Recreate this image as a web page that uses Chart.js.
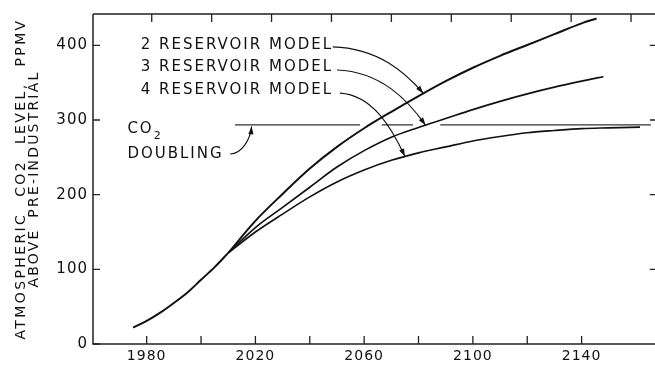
<!DOCTYPE html>
<html>
<head>
<meta charset="utf-8">
<script src="https://cdn.jsdelivr.net/npm/chart.js@4"></script>
<style>
  html, body { margin: 0; padding: 0; background: #fff; }
  canvas { display: block; }
</style>
</head>
<body>
<canvas id="chart" width="655" height="370"></canvas>
<script>
// Common history, 1975–2010 (ppmv above pre-industrial)
const sharedYears = [1975, 1980, 1985, 1990, 1995, 2000, 2005, 2010];
const sharedLevel = [22, 31, 42, 55, 69, 86, 103, 122];

// Projections for each ocean reservoir model
const twoResYears = [2010, 2020, 2030, 2040, 2050, 2060, 2070, 2080, 2090, 2100, 2110, 2120, 2130, 2140, 2145.5];
const twoResLevel = [122, 165, 201, 235, 264, 289, 311, 332, 352, 370, 386, 400.5, 415, 429.5, 436];

const threeResYears = [2010, 2020, 2030, 2040, 2050, 2060, 2070, 2080, 2090, 2100, 2110, 2120, 2130, 2140, 2148];
const threeResLevel = [122, 156, 183, 210, 237, 259, 277, 290, 302, 314, 325, 335, 344, 352, 358];

const fourResYears = [2010, 2020, 2030, 2040, 2050, 2060, 2070, 2080, 2090, 2100, 2110, 2120, 2130, 2140, 2150, 2161.5];
const fourResLevel = [122, 150, 174, 197, 217, 233, 246, 256, 264, 272, 278, 283, 286, 288.5, 289.5, 290.5];

// CO2 doubling reference level and the stretches where it is drawn
const doublingLevel = 293.5;
const doublingSpans = [[2012.5, 2058.5], [2066.5, 2078], [2088, 2165.5]];

// Axis ticks
const xTickValues = [1980, 2000, 2020, 2040, 2060, 2080, 2100, 2120, 2140];
const xLabelYears = [1980, 2020, 2060, 2100, 2140];
const yTickValues = [0, 100, 200, 300, 400];

// Text
const modelLabels = ['2 RESERVOIR MODEL', '3 RESERVOIR MODEL', '4 RESERVOIR MODEL'];
const yTitleLines = ['ATMOSPHERIC CO2 LEVEL, PPMV', 'ABOVE PRE-INDUSTRIAL'];
const doublingLabel = ['CO', '2', 'DOUBLING'];

const pts = (xs, ys) => xs.map((x, i) => ({ x, y: ys[i] }));

function doublingPoints() {
  const out = [];
  doublingSpans.forEach((s, i) => {
    if (i > 0) out.push({ x: (doublingSpans[i - 1][1] + s[0]) / 2, y: null });
    out.push({ x: s[0], y: doublingLevel }, { x: s[1], y: doublingLevel });
  });
  return out;
}

const modelSeries = [
  { years: sharedYears.concat(twoResYears.slice(1)), level: sharedLevel.concat(twoResLevel.slice(1)) },
  { years: sharedYears.concat(threeResYears.slice(1)), level: sharedLevel.concat(threeResLevel.slice(1)) },
  { years: sharedYears.concat(fourResYears.slice(1)), level: sharedLevel.concat(fourResLevel.slice(1)) }
];

function interp(series, year) {
  const xs = series.years, ys = series.level;
  for (let i = 1; i < xs.length; i++) {
    if (year <= xs[i]) {
      const t = (year - xs[i - 1]) / (xs[i] - xs[i - 1]);
      return ys[i - 1] + t * (ys[i] - ys[i - 1]);
    }
  }
  return ys[ys.length - 1];
}

const ink = '#111';
const font = (size) => size + 'px "DejaVu Sans"';

// Labels and leader arrows, placed in data coordinates
const modelNotes = [
  { at: [1977.8, 401], from: [2048.5, 398], tipYear: 2081.8 },
  { at: [1977.8, 370.5], from: [2050.0, 367], tipYear: 2082.6 },
  { at: [1977.8, 340], from: [2051.1, 336], tipYear: 2075.0 }
];
const doublingNote = { co: [1972.9, 287.2], doubling: [1972.9, 254.1], from: [2010.7, 254.5], tipYear: 2018.6 };

function arrowHead(ctx, tip, from) {
  const ang = Math.atan2(tip.y - from.y, tip.x - from.x);
  const len = 8, half = 2.6;
  ctx.beginPath();
  ctx.moveTo(tip.x, tip.y);
  ctx.lineTo(tip.x - len * Math.cos(ang) + half * Math.sin(ang), tip.y - len * Math.sin(ang) - half * Math.cos(ang));
  ctx.lineTo(tip.x - len * Math.cos(ang) - half * Math.sin(ang), tip.y - len * Math.sin(ang) + half * Math.cos(ang));
  ctx.closePath();
  ctx.fill();
}

function leader(ctx, p0, p3, c1, c2) {
  const p1 = { x: p0.x + c1[0] * (p3.x - p0.x), y: p0.y + c1[1] * (p3.y - p0.y) };
  const p2 = { x: p3.x - c2[0] * (p3.x - p0.x), y: p3.y - c2[1] * (p3.y - p0.y) };
  ctx.beginPath();
  ctx.moveTo(p0.x, p0.y);
  ctx.bezierCurveTo(p1.x, p1.y, p2.x, p2.y, p3.x, p3.y);
  ctx.stroke();
  arrowHead(ctx, p3, p2);
}

const frameAndNotes = {
  id: 'frameAndNotes',
  beforeDraw(chart) {
    chart.ctx.letterSpacing = '1px';
  },
  afterDraw(chart) {
    const ctx = chart.ctx;
    const { left, right, top, bottom } = chart.chartArea;
    const xs = chart.scales.x, ys = chart.scales.y, xt = chart.scales.xTop;
    const P = (yr, v) => ({ x: xs.getPixelForValue(yr), y: ys.getPixelForValue(v) });

    ctx.save();
    ctx.letterSpacing = '0px';
    ctx.strokeStyle = '#222';
    ctx.lineWidth = 1.5;
    ctx.beginPath();
    ctx.moveTo(left, top); ctx.lineTo(right, top);
    ctx.moveTo(left, top); ctx.lineTo(left, bottom); ctx.lineTo(right, bottom);
    ctx.stroke();

    // inward tick marks on all four sides
    ctx.lineWidth = 1.3;
    ctx.beginPath();
    xTickValues.forEach(v => {
      const px = xs.getPixelForValue(v);
      ctx.moveTo(px, bottom); ctx.lineTo(px, bottom - 8);
      const pt = xt.getPixelForValue(v);
      ctx.moveTo(pt, top); ctx.lineTo(pt, top + 8);
    });
    yTickValues.forEach(v => {
      const py = ys.getPixelForValue(v);
      ctx.moveTo(left, py); ctx.lineTo(left + 7, py);
      if (v > 0) { ctx.moveTo(right, py); ctx.lineTo(right - 5, py); }
    });
    ctx.stroke();

    // y-axis title, two rotated lines
    ctx.fillStyle = ink;
    ctx.font = font(14);
    ctx.textAlign = 'center';
    ctx.textBaseline = 'middle';
    [[21.5, 2.4, '9px'], [34.5, 2.2, '4px']].forEach((cfg, i) => {
      ctx.save();
      ctx.translate(cfg[0], (top + bottom) / 2);
      ctx.rotate(-Math.PI / 2);
      ctx.letterSpacing = cfg[1] + 'px';
      ctx.wordSpacing = cfg[2];
      ctx.fillText(yTitleLines[i], 0, 0);
      ctx.restore();
    });

    // model labels and leaders
    ctx.font = font(15);
    ctx.textAlign = 'left';
    ctx.letterSpacing = '2px';
    ctx.lineWidth = 1.1;
    ctx.strokeStyle = ink;
    modelNotes.forEach((n, i) => {
      const a = P(n.at[0], n.at[1]);
      ctx.fillText(modelLabels[i], a.x, a.y);
      const p0 = P(n.from[0], n.from[1]);
      const tip = P(n.tipYear, interp(modelSeries[i], n.tipYear));
      leader(ctx, p0, tip, [0.5, 0.03], [0.2, 0.45]);
    });

    // CO2 doubling label and leader
    const c = P(doublingNote.co[0], doublingNote.co[1]);
    ctx.fillText(doublingLabel[0], c.x, c.y);
    const coW = ctx.measureText(doublingLabel[0]).width;
    ctx.font = font(11);
    ctx.letterSpacing = '0px';
    ctx.fillText(doublingLabel[1], c.x + coW, c.y + 7);
    ctx.font = font(15);
    ctx.letterSpacing = '2px';
    const d = P(doublingNote.doubling[0], doublingNote.doubling[1]);
    ctx.fillText(doublingLabel[2], d.x, d.y);
    const q0 = P(doublingNote.from[0], doublingNote.from[1]);
    const q3 = P(doublingNote.tipYear, doublingLevel - 2);
    leader(ctx, q0, q3, [0.55, 0.0], [0.05, 0.45]);
    ctx.restore();
  }
};

const lineStyle = (data, width) => ({
  data, borderColor: ink, borderWidth: width, pointRadius: 0,
  cubicInterpolationMode: 'monotone', fill: false
});

new Chart(document.getElementById('chart'), {
  type: 'line',
  data: {
    datasets: [
      lineStyle(pts(sharedYears, sharedLevel), 2),
      lineStyle(pts(twoResYears, twoResLevel), 2),
      lineStyle(pts(threeResYears, threeResLevel), 1.7),
      lineStyle(pts(fourResYears, fourResLevel), 1.6),
      Object.assign(lineStyle(doublingPoints(), 1.3), { borderColor: '#333', spanGaps: false, cubicInterpolationMode: 'default', tension: 0 })
    ]
  },
  options: {
    responsive: false,
    animation: false,
    devicePixelRatio: 1,
    events: [],
    layout: { padding: { top: 10, right: 0, left: 0, bottom: 0 } },
    plugins: { legend: { display: false }, tooltip: { enabled: false } },
    scales: {
      x: {
        type: 'linear', min: 1960.25, max: 2167,
        afterBuildTicks: s => { s.ticks = xTickValues.map(v => ({ value: v })); },
        afterFit: s => { s.height = 26; },
        grid: { display: false, drawTicks: false },
        border: { display: false },
        ticks: {
          autoSkip: false, maxRotation: 0, padding: 4, color: ink, font: { family: 'DejaVu Sans', size: 14 },
          callback: v => xLabelYears.includes(v) ? String(v) : ''
        }
      },
      xTop: {
        type: 'linear', position: 'top', display: false, min: 1960.4, max: 2148
      },
      y: {
        min: 0, max: 442,
        afterBuildTicks: s => { s.ticks = yTickValues.map(v => ({ value: v })); },
        afterFit: s => { s.width = 93; },
        grid: { display: false, drawTicks: false },
        border: { display: false },
        ticks: { padding: 5, color: ink, font: { family: 'DejaVu Sans', size: 15 } }
      }
    }
  },
  plugins: [frameAndNotes]
});
</script>
</body>
</html>
